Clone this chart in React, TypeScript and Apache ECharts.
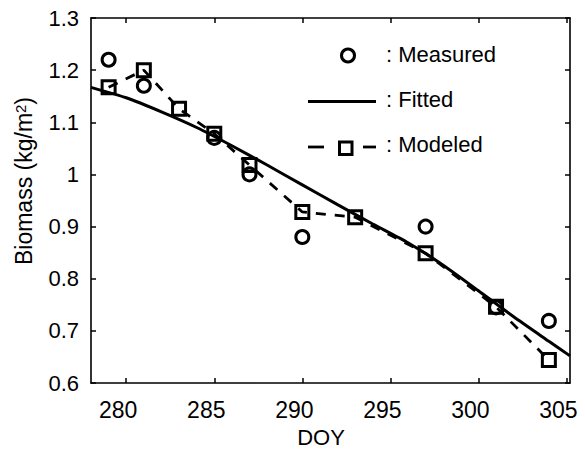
import React, { useEffect, useRef } from "react";
import * as echarts from "echarts";

const xTicks = [280, 285, 290, 295, 300, 305];
const measuredDoy = [279, 281, 285, 287, 290, 297, 301, 304];
const measuredVal = [1.22, 1.17, 1.07, 1.0, 0.88, 0.9, 0.745, 0.719];
const modeledDoy = [279, 281, 283, 285, 287, 290, 293, 297, 301, 304];
const modeledVal = [1.167, 1.2, 1.126, 1.078, 1.018, 0.928, 0.918, 0.849, 0.746, 0.644];
const fittedDoy = [278, 280, 282, 284, 286, 288, 290, 292, 294, 296, 298, 300, 302, 304, 305.2];
const fittedVal = [1.167, 1.147, 1.12, 1.09, 1.055, 1.018, 0.98, 0.942, 0.905, 0.869, 0.826, 0.777, 0.727, 0.68, 0.652];

const legendItems = [": Measured", ": Fitted", ": Modeled"];
const FONT = "'Liberation Sans', Arial, Helvetica, sans-serif";

export default function App() {
  const ref = useRef<HTMLDivElement>(null);
  useEffect(() => {
    if (!ref.current) return;
    const chart = echarts.init(ref.current, undefined, { renderer: "svg" });
    const zip = (xs: number[], ys: number[]) => xs.map((x, i) => [x, ys[i]]);
    const axisCommon = {
      axisLine: { show: true, lineStyle: { color: "#000", width: 1.6 } },
      splitLine: { show: false },
    };
    chart.setOption({
      animation: false,
      backgroundColor: "#fff",
      textStyle: { fontFamily: FONT },
      grid: { left: 91, top: 18, right: 15, bottom: 67, containLabel: false },
      xAxis: [
        {
          type: "value",
          min: 278,
          max: 305.2,
          ...axisCommon,
          axisTick: { show: true, inside: true, length: 5, customValues: xTicks, lineStyle: { color: "#000", width: 1.5 } },
          axisLabel: {
            show: true,
            customValues: xTicks,
            color: "#000",
            fontSize: 23,
            fontFamily: FONT,
            margin: 15,
            padding: [0, 16, 0, 0],
          },
        },
        {
          type: "value",
          position: "top",
          min: 278,
          max: 305.2,
          ...axisCommon,
          axisTick: { show: true, inside: true, length: 5, customValues: xTicks, lineStyle: { color: "#000", width: 1.5 } },
          axisLabel: { show: false },
        },
      ],
      yAxis: [
        {
          type: "value",
          min: 0.6,
          max: 1.3,
          interval: 0.1,
          ...axisCommon,
          axisTick: { show: true, inside: true, length: 5, lineStyle: { color: "#000", width: 1.5 } },
          axisLabel: {
            color: "#000",
            fontSize: 22,
            fontFamily: FONT,
            margin: 12,
            formatter: (v: number) => String(Number(v.toFixed(1))),
          },
        },
        {
          type: "value",
          position: "right",
          min: 0.6,
          max: 1.3,
          interval: 0.1,
          ...axisCommon,
          axisTick: { show: true, inside: true, length: 5, lineStyle: { color: "#000", width: 1.5 } },
          axisLabel: { show: false },
        },
      ],
      series: [
        {
          name: "Fitted",
          type: "line",
          data: zip(fittedDoy, fittedVal),
          smooth: 0.2,
          showSymbol: false,
          symbol: "none",
          lineStyle: { color: "#000", width: 3 },
          z: 2,
        },
        {
          name: "Modeled",
          type: "line",
          data: zip(modeledDoy, modeledVal),
          symbol: "rect",
          symbolSize: 13,
          itemStyle: { color: "rgba(0,0,0,0)", borderColor: "#000", borderWidth: 3 },
          lineStyle: { color: "#000", width: 2.8, type: [10, 9] },
          z: 3,
        },
        {
          name: "Measured",
          type: "scatter",
          data: zip(measuredDoy, measuredVal),
          symbol: "circle",
          symbolSize: 13,
          itemStyle: { color: "rgba(0,0,0,0)", borderColor: "#000", borderWidth: 3, opacity: 1 },
          z: 4,
        },
      ],
      graphic: [
        {
          type: "text",
          x: 24,
          y: 181,
          rotation: Math.PI / 2,
          style: {
            text: "{a|Biomass (kg/m}{s|2}{a|)}",
            fontFamily: FONT,
            fill: "#000",
            align: "center",
            verticalAlign: "middle",
            rich: {
              a: { fontSize: 23, fontFamily: FONT, fill: "#000", verticalAlign: "bottom" },
              s: { fontSize: 15, fontFamily: FONT, fill: "#000", verticalAlign: "top" },
            },
          },
        },
        {
          type: "text",
          x: 321,
          y: 437,
          style: {
            text: "DOY",
            fontSize: 22,
            fontFamily: FONT,
            fill: "#000",
            align: "center",
            verticalAlign: "middle",
          },
        },
        {
          type: "circle",
          shape: { cx: 348, cy: 55.5, r: 6.5 },
          style: { fill: "none", stroke: "#000", lineWidth: 3 },
        },
        {
          type: "line",
          shape: { x1: 308, y1: 101.5, x2: 376, y2: 101.5 },
          style: { stroke: "#000", lineWidth: 3 },
        },
        {
          type: "line",
          shape: { x1: 308, y1: 147, x2: 324, y2: 147 },
          style: { stroke: "#000", lineWidth: 2.8 },
        },
        {
          type: "line",
          shape: { x1: 363, y1: 147, x2: 376, y2: 147 },
          style: { stroke: "#000", lineWidth: 2.8 },
        },
        {
          type: "rect",
          shape: { x: 339.5, y: 142, width: 12.5, height: 12.5 },
          style: { fill: "none", stroke: "#000", lineWidth: 3 },
        },
        ...legendItems.map((t, i) => ({
          type: "text",
          x: 386,
          y: [54, 99, 144][i],
          style: {
            text: t,
            fontSize: 22,
            fontFamily: FONT,
            fill: "#000",
            align: "left",
            verticalAlign: "middle",
          },
        })),
      ],
    });
    return () => chart.dispose();
  }, []);
  return <div ref={ref} style={{ width: 585, height: 450, position: "absolute", left: 0, top: 0 }} />;
}
